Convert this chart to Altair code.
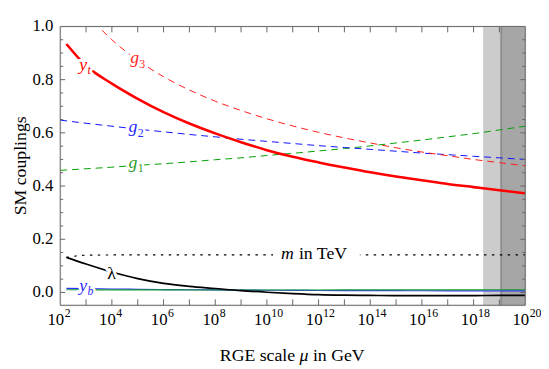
import altair as alt
import pandas as pd

# ---------------- data (log10 of mu/GeV and coupling values) ----------------
gauge_exp = list(range(2, 21))
g1_vals = [0.459, 0.465, 0.471, 0.478, 0.484, 0.491, 0.499, 0.506, 0.515, 0.523,
           0.532, 0.541, 0.551, 0.562, 0.573, 0.585, 0.597, 0.611, 0.625]
g2_vals = [0.648, 0.636, 0.625, 0.614, 0.604, 0.594, 0.585, 0.576, 0.568, 0.560,
           0.552, 0.545, 0.538, 0.531, 0.524, 0.518, 0.512, 0.506, 0.500]
g3_vals = [1.200, 1.054, 0.950, 0.873, 0.811, 0.761, 0.719, 0.684, 0.653, 0.626,
           0.602, 0.581, 0.562, 0.544, 0.528, 0.514, 0.500, 0.488, 0.476]

yuk_exp = [2.24] + list(range(3, 21))
yt_vals = [0.934, 0.852, 0.785, 0.728, 0.678, 0.635, 0.598, 0.565, 0.535, 0.510,
           0.489, 0.470, 0.452, 0.436, 0.422, 0.408, 0.396, 0.384, 0.373]
lam_vals = [0.132, 0.107, 0.077, 0.052, 0.034, 0.023, 0.015, 0.007, 0.001, -0.004,
            -0.008, -0.010, -0.011, -0.012, -0.012, -0.012, -0.012, -0.011, -0.011]
yb_vals = [0.0155, 0.0142, 0.0130, 0.0120, 0.0110, 0.0102, 0.0095, 0.0090, 0.0085, 0.0080,
           0.0075, 0.0072, 0.0070, 0.0067, 0.0065, 0.0062, 0.0060, 0.0058, 0.0057]
ytau_vals = [0.0100, 0.0099, 0.0098, 0.0097, 0.0097, 0.0096, 0.0096, 0.0096, 0.0096, 0.0096,
             0.0096, 0.0097, 0.0097, 0.0098, 0.0098, 0.0099, 0.0099, 0.0100, 0.0100]
mh_vals = [0.132, 0.140, 0.141, 0.141, 0.141, 0.141, 0.141, 0.141, 0.141, 0.141,
           0.141, 0.141, 0.141, 0.141, 0.141, 0.141, 0.141, 0.141, 0.141]

band_light = [18.37, 19.07]
band_dark = [19.07, 20.0]

x_label_exp = [2, 4, 6, 8, 10, 12, 14, 16, 18, 20]
x_tick_exp = list(range(3, 20))
y_label_vals = [0.0, 0.2, 0.4, 0.6, 0.8, 1.0]
y_major = [0.0, 0.2, 0.4, 0.6, 0.8]
y_minor = [0.05, 0.1, 0.15, 0.25, 0.3, 0.35, 0.45, 0.5, 0.55, 0.65, 0.7, 0.75, 0.85, 0.9, 0.95]

# curve labels: (text, exponent, value)
lab_main_italic = [("y", 2.74, 0.837), ("g", 4.71, 0.863), ("g", 4.64, 0.604),
                   ("g", 4.64, 0.467), ("y", 2.74, 0.004), ("m", 10.55, 0.126)]
lab_main_colors = ["#ff0000", "#ff2a2a", "#2a2aff", "#2a9a2a", "#2a2aff", "#000000"]
lab_sub_italic = [("t", 3.06, 0.822), ("b", 3.06, -0.011)]
lab_sub_colors = ["#ff0000", "#2a2aff"]
lab_sub_digits = [("3", 5.06, 0.844), ("2", 5.0, 0.585), ("1", 5.0, 0.452)]
lab_sub_digit_colors = ["#ff2a2a", "#2a2aff", "#2a9a2a"]
lab_plain = [("λ", 3.82, 0.052), ("in TeV", 11.24, 0.126)]
m_label_gap_exp = [10.24, 13.6]
m_label_gap_val = [0.115, 0.165]

# ---------------- layout ----------------
W, H = 472, 283
FONT = "Liberation Serif"
FS = 18        # curve labels and axis titles
FS_TICK = 17   # tick labels
FS_SUB = 12

xs = alt.Scale(type="log", domain=[1e2, 1e20], nice=False)
ys = alt.Scale(domain=[-0.048, 1.0], nice=False, zero=False)


def X(f="mu"):
    return alt.X(f"{f}:Q", scale=xs, axis=None)


def Y(f="v"):
    return alt.Y(f"{f}:Q", scale=ys, axis=None)


def curve(exps, vals, color, width, dash=None):
    df = pd.DataFrame({"e": exps, "v": vals})
    kw = dict(color=color, strokeWidth=width, clip=True, interpolate="monotone")
    if dash:
        kw["strokeDash"] = dash
    return (alt.Chart(df).transform_calculate(mu="pow(10, datum.e)")
            .mark_line(**kw).encode(x=X(), y=Y()))


def band(rng, color):
    df = pd.DataFrame({"a": [rng[0]], "b": [rng[1]]})
    return (alt.Chart(df).transform_calculate(ma="pow(10, datum.a)", mb="pow(10, datum.b)")
            .mark_rect(color=color).encode(x=X("ma"), x2="mb:Q",
                                            y=alt.value(0), y2=alt.value(H)))


band_edge = (alt.Chart(pd.DataFrame({"a": [band_dark[0]]}))
             .transform_calculate(ma="pow(10, datum.a)")
             .mark_rule(color="#8f8f8f", strokeWidth=2)
             .encode(x=X("ma"), y=alt.value(0), y2=alt.value(H)))

layers = [band(band_light, "#cccccc"), band(band_dark, "#a6a6a6"), band_edge]

layers += [
    curve(gauge_exp, g1_vals, "#00a000", 1, [7, 5]),
    curve(gauge_exp, g2_vals, "#1010ff", 1, [7, 5]),
    curve(gauge_exp, g3_vals, "#ff1a1a", 1, [7, 5]),
    curve(yuk_exp, yb_vals, "#3030ff", 1.2),
    curve(yuk_exp, ytau_vals, "#109a30", 1.1),
    curve(yuk_exp, mh_vals, "#000000", 1.2, [2.5, 5.5]),
    curve(yuk_exp, lam_vals, "#000000", 1.7),
    curve(yuk_exp, yt_vals, "#ff0000", 2.6),
]

# frame
frame = pd.DataFrame({"k": [0]})
for enc in [dict(x=alt.value(0), x2=alt.value(W), y=alt.value(0)),
            dict(x=alt.value(0), x2=alt.value(W), y=alt.value(H)),
            dict(x=alt.value(0), y=alt.value(0), y2=alt.value(H)),
            dict(x=alt.value(W), y=alt.value(0), y2=alt.value(H))]:
    layers.append(alt.Chart(frame).mark_rule(color="#666666", strokeWidth=1).encode(**enc))

# ticks (inward, all four sides)
xt = pd.DataFrame({"e": x_tick_exp})
for y0, y1 in [(H, H - 6), (0, 6)]:
    layers.append(alt.Chart(xt).transform_calculate(mu="pow(10, datum.e)")
                  .mark_rule(color="#666666", strokeWidth=1)
                  .encode(x=X(), y=alt.value(y0), y2=alt.value(y1)))
for vals, ln in [(y_major, 5), (y_minor, 3)]:
    d = pd.DataFrame({"v": vals})
    for x0, x1 in [(0, ln), (W, W - ln)]:
        layers.append(alt.Chart(d).mark_rule(color="#666666", strokeWidth=1)
                      .encode(y=Y(), x=alt.value(x0), x2=alt.value(x1)))

# white gap in the dotted line behind the "m in TeV" label
gap = pd.DataFrame({"a": [m_label_gap_exp[0]], "b": [m_label_gap_exp[1]],
                    "v1": [m_label_gap_val[0]], "v2": [m_label_gap_val[1]]})
layers.append(alt.Chart(gap).transform_calculate(ma="pow(10, datum.a)", mb="pow(10, datum.b)")
              .mark_rect(color="white")
              .encode(x=X("ma"), x2="mb:Q", y=Y("v1"), y2="v2:Q"))


# curve labels with white halos
def label_layer(items, colors, size, italic, halo):
    df = pd.DataFrame({"t": [i[0] for i in items], "e": [i[1] for i in items],
                       "v": [i[2] for i in items], "c": colors})
    base = alt.Chart(df).transform_calculate(mu="pow(10, datum.e)")
    style = "italic" if italic else "normal"
    kw = dict(font=FONT, fontSize=size, fontStyle=style, align="left", baseline="alphabetic")
    h = base.mark_text(fill="white", stroke="white", strokeWidth=halo, strokeJoin="round", **kw
                       ).encode(x=X(), y=Y(), text="t:N")
    t = base.mark_text(**kw).encode(x=X(), y=Y(), text="t:N",
                                    color=alt.Color("c:N", scale=None))
    return h, t


halos, texts = [], []
for args in [(lab_main_italic, lab_main_colors, FS, True, 6),
             (lab_sub_italic, lab_sub_colors, FS_SUB, True, 5),
             (lab_sub_digits, lab_sub_digit_colors, FS_SUB, False, 5),
             (lab_plain, ["#000000", "#000000"], FS, False, 6)]:
    h, t = label_layer(*args)
    halos.append(h)
    texts.append(t)
layers += halos + texts

# y tick labels
yl = pd.DataFrame({"v": y_label_vals})
layers.append(alt.Chart(yl).mark_text(font=FONT, fontSize=FS_TICK, align="right",
                                      baseline="middle", color="black")
              .encode(y=Y(), x=alt.value(-7), text=alt.Text("v:Q", format=".1f")))

# x tick labels 10^n
xl = pd.DataFrame({"e": x_label_exp, "s": [str(e) for e in x_label_exp]})
xb = alt.Chart(xl).transform_calculate(mu="pow(10, datum.e)")
layers.append(xb.mark_text(text="10", font=FONT, fontSize=FS_TICK, align="right",
                           baseline="alphabetic", dx=4, color="black")
              .encode(x=X(), y=alt.value(H + 20)))
layers.append(xb.mark_text(font=FONT, fontSize=FS_SUB, align="left",
                           baseline="alphabetic", dx=4.5, color="black")
              .encode(x=X(), y=alt.value(H + 12), text="s:N"))

# axis titles
one = pd.DataFrame({"k": [0]})
layers.append(alt.Chart(one).mark_text(text="SM couplings", font=FONT, fontSize=FS, angle=270,
                                       align="center", baseline="alphabetic", color="black")
              .encode(x=alt.value(-35), y=alt.value(H / 2)))
x0 = W / 2 - 74
w1 = 4.5 * FS
layers.append(alt.Chart(one).mark_text(text="RGE scale", font=FONT, fontSize=FS, align="left",
                                       baseline="alphabetic", color="black")
              .encode(x=alt.value(x0), y=alt.value(H + 57)))
layers.append(alt.Chart(one).mark_text(text="μ", font=FONT, fontSize=FS, fontStyle="italic",
                                       align="left", baseline="alphabetic", color="black")
              .encode(x=alt.value(x0 + w1), y=alt.value(H + 57)))
layers.append(alt.Chart(one).mark_text(text="in GeV", font=FONT, fontSize=FS, align="left",
                                       baseline="alphabetic", color="black")
              .encode(x=alt.value(x0 + w1 + 0.75 * FS), y=alt.value(H + 57)))

chart = (alt.layer(*layers)
         .properties(width=W, height=H,
                     padding={"left": 53, "top": 16, "right": 16, "bottom": 62},
                     autosize=alt.AutoSizeParams(type="none"))
         .configure_view(stroke=None)
         .configure(background="white"))

chart.save("out.html", embed_options={"renderer": "svg", "actions": False})
